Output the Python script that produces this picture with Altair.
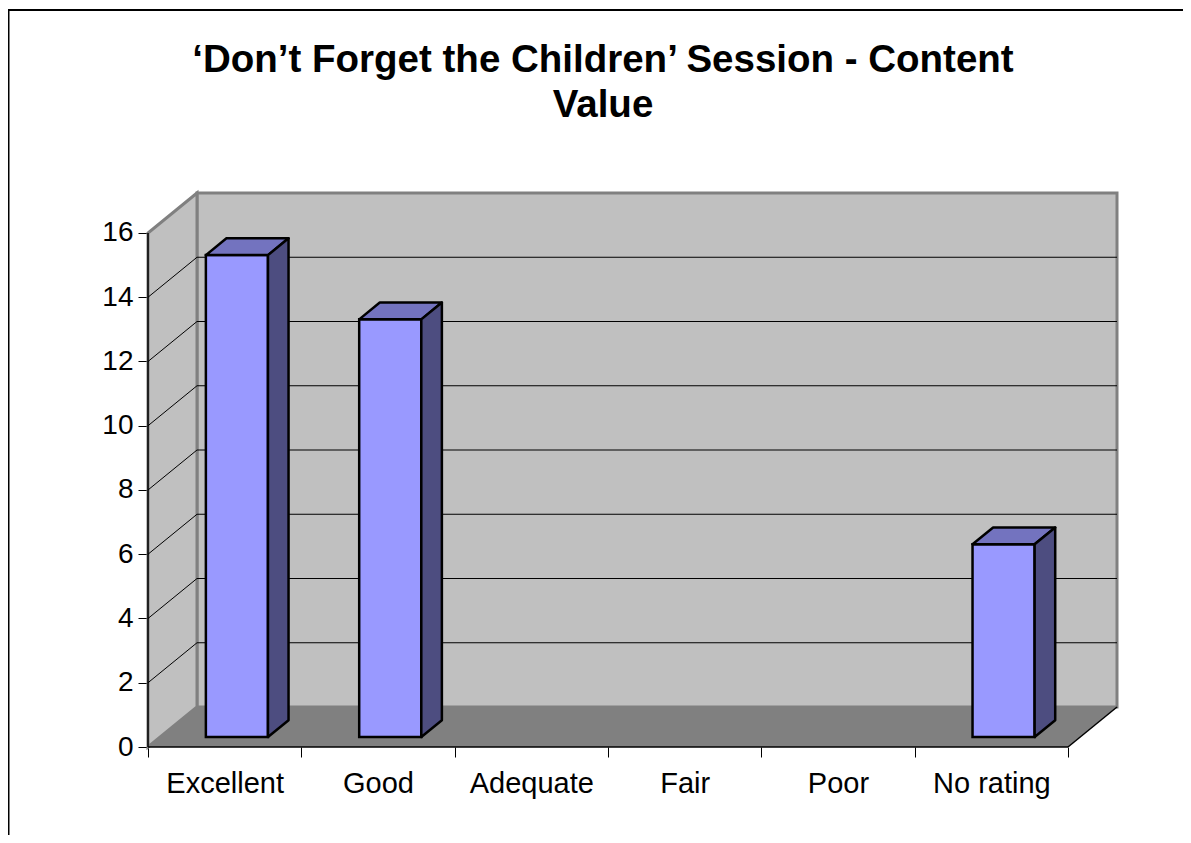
import altair as alt
import pandas as pd

# ---- data ----
categories = ["Excellent", "Good", "Adequate", "Fair", "Poor", "No rating"]
values = [15, 13, 0, 0, 0, 6]
y_ticks = [0, 2, 4, 6, 8, 10, 12, 14, 16]
title_lines = ["\u2018Don\u2019t Forget the Children\u2019 Session - Content", "Value"]

# ---- 3-D geometry constants (in data units) ----
N = len(categories)
YMAX = 16
DX, DY = 0.3196, 1.245          # full depth offset of the floor/walls
F0, F1 = 0.25, 0.67             # bar depth range (fraction of full depth)
HW = 0.2025                     # half bar width (category units)

W, H = 969, 554
xs = alt.Scale(domain=[0, N + DX], nice=False, zero=False)
ys = alt.Scale(domain=[0, YMAX + DY], nice=False, zero=False)

FONT = "Liberation Sans"

label_expr = "[" + ",".join("'" + c + "'" for c in categories) + ",''][datum.value]"
AX_X = alt.Axis(
    values=list(range(N + 1)), labelExpr=label_expr, labelOffset=W / (N + DX) / 2,
    orient="bottom", domain=False, grid=False, ticks=True, tickSize=10, tickColor="black",
    tickWidth=1, labelFontSize=29, labelFont=FONT, labelColor="black", labelPadding=12,
    labelFlush=False, labelOverlap=False, labelBound=False, title=None)
AX_Y = alt.Axis(
    values=y_ticks, format="d", orient="left", domain=False, grid=False, tickSize=10,
    tickColor="black", tickWidth=1, labelFontSize=28, labelFont=FONT, labelColor="black",
    labelPadding=5, labelOverlap=False, labelBound=False, title=None)


def X(f):
    return alt.X(f, scale=xs, axis=AX_X)


def Y(f):
    return alt.Y(f, scale=ys, axis=AX_Y)


# walls / floor
back = pd.DataFrame({"x": [DX], "x2": [N + DX], "y": [DY], "y2": [YMAX + DY]})
left = pd.DataFrame({"x": [0, DX], "y": [0, DY], "y2": [YMAX, YMAX + DY]})
floor = pd.DataFrame({"y": [0, DY], "x": [0, DX], "x2": [N, N + DX]})

grid_v = y_ticks[1:-1]
grid_back = pd.DataFrame({"y": [v + DY for v in grid_v], "x": DX, "x2": N + DX})
grid_left = pd.DataFrame({"x": 0, "y": grid_v, "x2": DX, "y2": [v + DY for v in grid_v]})

edges = pd.DataFrame({
    "x": [0, 0, N], "y": [0, 0, 0], "x2": [N, 0, N + DX], "y2": [0, YMAX, DY]
})

# bars
front_rows, top_rows, side_rows = [], [], []
for i, (c, v) in enumerate(zip(categories, values)):
    if v <= 0:
        continue
    cx = i + 0.5
    front_rows.append({"cat": c, "x": cx - HW + F0 * DX, "x2": cx + HW + F0 * DX,
                       "y": F0 * DY, "y2": v + F0 * DY})
    for f in (F0, F1):
        top_rows.append({"cat": c, "ty": v + f * DY, "tx": cx - HW + f * DX, "tx2": cx + HW + f * DX})
        side_rows.append({"cat": c, "sx": cx + HW + f * DX, "sy": f * DY, "sy2": v + f * DY})
front = pd.DataFrame(front_rows)
top = pd.DataFrame(top_rows)
side = pd.DataFrame(side_rows)

back_layer = alt.Chart(back).mark_rect(fill="#C0C0C0", stroke="#808080", strokeWidth=3).encode(
    x=X("x:Q"), x2="x2:Q", y=Y("y:Q"), y2="y2:Q",
)
left_layer = alt.Chart(left).mark_area(fill="#C0C0C0", stroke="#808080", strokeWidth=3,
                                       orient="vertical").encode(
    x=X("x:Q"), y=Y("y:Q"), y2="y2:Q",
)
floor_layer = alt.Chart(floor).mark_area(fill="#808080", orient="horizontal").encode(
    y=Y("y:Q"), x=X("x:Q"), x2="x2:Q",
)
grid_back_layer = alt.Chart(grid_back).mark_rule(color="black", strokeWidth=1).encode(
    x=X("x:Q"), x2="x2:Q", y=Y("y:Q"),
)
grid_left_layer = alt.Chart(grid_left).mark_rule(color="black", strokeWidth=1).encode(
    x=X("x:Q"), x2="x2:Q", y=Y("y:Q"), y2="y2:Q",
)
edge_layer = alt.Chart(edges).mark_rule(color="black", strokeWidth=1.5).encode(
    x=X("x:Q"), x2="x2:Q", y=Y("y:Q"), y2="y2:Q",
)
front_layer = alt.Chart(front).mark_rect(fill="#9999FF", stroke="black", strokeWidth=2.5).encode(
    x=X("x:Q"), x2="x2:Q", y=Y("y:Q"), y2="y2:Q",
)
top_layer = alt.Chart(top).mark_area(fill="#7373BF", stroke="black", strokeWidth=2.5,
                                     orient="horizontal", strokeJoin="round").encode(
    y=Y("ty:Q"), x=X("tx:Q"), x2="tx2:Q", detail="cat:N",
)
side_layer = alt.Chart(side).mark_area(fill="#4D4D80", stroke="black", strokeWidth=2.5,
                                       orient="vertical", strokeJoin="round").encode(
    x=X("sx:Q"), y=Y("sy:Q"), y2="sy2:Q", detail="cat:N",
)

# chart title (two lines)
title_layer = alt.Chart(back).mark_text(
    text=title_lines, font=FONT, fontSize=38.5, fontWeight="bold", color="black",
    align="center", baseline="alphabetic", lineHeight=45,
).encode(x=alt.value(455), y=alt.value(-121))

# outer chart frame (top and left edges visible in the reference)
frame = alt.Chart(back).mark_rule(color="black", strokeWidth=2).encode(
    x=alt.value(-139.5), y=alt.value(-183), y2=alt.value(700),
)
frame_top = alt.Chart(back).mark_rule(color="black", strokeWidth=2).encode(
    x=alt.value(-140), x2=alt.value(1040), y=alt.value(-183),
)

chart = alt.layer(
    back_layer, left_layer, floor_layer, grid_back_layer, grid_left_layer, edge_layer,
    front_layer, top_layer, side_layer, title_layer, frame, frame_top,
).properties(
    width=W, height=H,
    background="white",
    autosize=alt.AutoSizeParams(type="none"),
    padding={"left": 140, "top": 185, "right": 66, "bottom": 88},
).configure_view(stroke=None)

chart.save("out.html", embed_options={"renderer": "svg", "actions": False})
